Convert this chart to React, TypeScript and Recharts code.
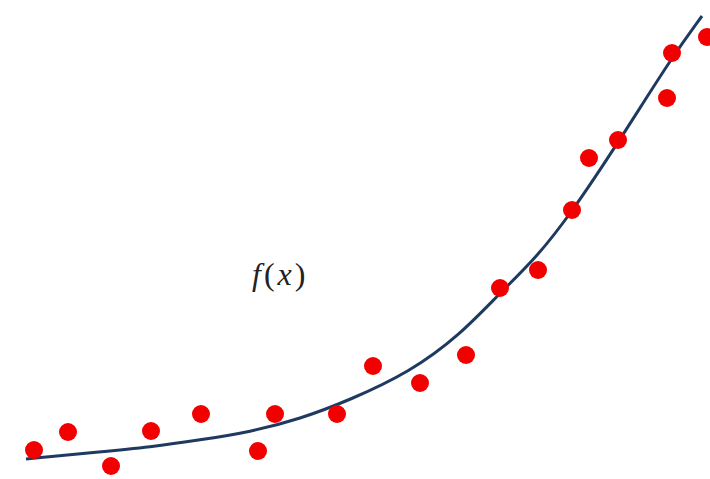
import React from "react";
import { ComposedChart, Line, Scatter, XAxis, YAxis } from "recharts";

const W = 710;
const H = 479;

// Observed samples (x, y)
const sampleX = [34, 68, 111, 151, 201, 258, 275, 337, 373, 420, 466, 500, 538, 572, 589, 618, 667, 672, 707];
const sampleY = [29, 47, 13, 48, 65, 28, 65, 65, 113, 96, 124, 191, 209, 269, 321, 339, 381, 426, 442];

// Fitted curve f(x)
const curveX = [26, 100, 150, 200, 250, 300, 350, 410, 460, 500, 537, 572, 618, 672, 702];
const curveY = [20, 27, 32, 39, 47, 60, 79, 107, 144, 186, 222, 267, 336, 422, 463];

const samples = sampleX.map((x, i) => ({ x, y: sampleY[i] }));
const curve = curveX.map((x, i) => ({ x, y: curveY[i] }));

export default function App() {
  return (
    <div style={{ position: "absolute", left: 0, top: 0, width: W, height: H, background: "#fff" }}>
      <ComposedChart width={W} height={H} margin={{ top: 0, right: 0, bottom: 0, left: 0 }}>
        <XAxis type="number" dataKey="x" domain={[0, W]} hide allowDataOverflow />
        <YAxis type="number" dataKey="y" domain={[0, H]} hide allowDataOverflow />
        <Line
          data={curve}
          dataKey="y"
          type="basis"
          stroke="#1f3a60"
          strokeWidth={3}
          dot={false}
          activeDot={false}
          isAnimationActive={false}
        />
        <Scatter
          data={samples}
          dataKey="y"
          fill="#ff0000"
          isAnimationActive={false}
          shape={(p: any) => <circle cx={p.cx} cy={p.cy} r={9} fill="#f20000" />}
        />
      </ComposedChart>
      <div
        style={{
          position: "absolute",
          left: 252,
          top: 256,
          fontFamily: "'Times New Roman', 'Liberation Serif', serif",
          fontSize: 32,
          letterSpacing: 3,
          color: "#222",
          lineHeight: "36px",
          whiteSpace: "nowrap",
        }}
      >
        <i>f</i>(<i>x</i>)
      </div>
    </div>
  );
}
